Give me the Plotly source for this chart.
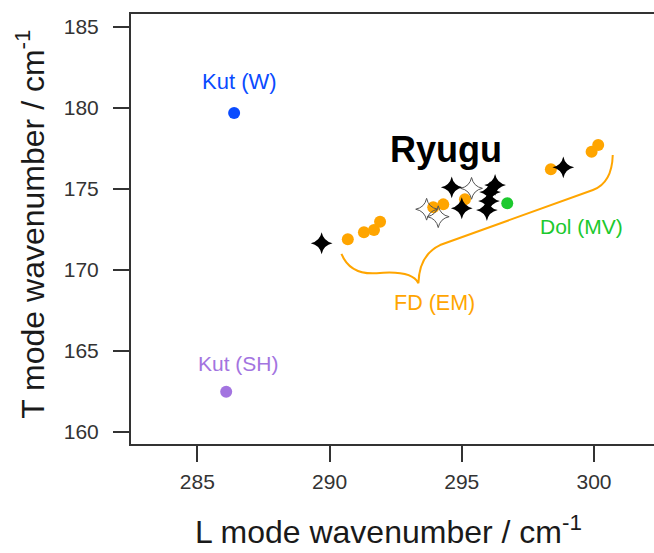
import plotly.graph_objects as go

# L mode / T mode wavenumbers (cm^-1)
fd_L = [290.69, 291.30, 291.68, 291.91, 293.92, 294.30, 295.12, 298.37, 299.91, 300.16]
fd_T = [171.90, 172.33, 172.47, 172.98, 173.87, 174.05, 174.36, 176.22, 177.30, 177.72]

ryugu_L = [289.70, 294.62, 295.00, 296.26, 296.07, 296.03, 295.95, 298.84]
ryugu_T = [171.65, 175.10, 173.81, 175.25, 174.81, 174.26, 173.70, 176.34]

ryugu_open_L = [293.67, 294.11, 295.37]
ryugu_open_T = [173.75, 173.29, 175.04]

kut_w = (286.39, 179.69)
kut_sh = (286.09, 162.49)
dol_mv = (296.72, 174.12)

x_ticks = [285, 290, 295, 300]
y_ticks = [160, 165, 170, 175, 180, 185]

FONT = "Liberation Sans, Arial, sans-serif"
ORANGE = "#FFA500"
BLUE = "#0A4BFF"
PURPLE = "#A374E0"
GREEN = "#1CC92E"

fig = go.Figure()

fig.add_trace(go.Scatter(x=fd_L, y=fd_T, mode="markers",
                         marker=dict(size=12, color=ORANGE), hoverinfo="skip"))
# filled four-point stars: a concave star plus a small diamond to thicken the waist
fig.add_trace(go.Scatter(x=ryugu_L, y=ryugu_T, mode="markers",
                         marker=dict(symbol="star-square", angle=45, size=14, color="black",
                                     line=dict(width=0))))
fig.add_trace(go.Scatter(x=ryugu_L, y=ryugu_T, mode="markers",
                         marker=dict(symbol="diamond", size=10, color="black",
                                     line=dict(width=0))))
fig.add_trace(go.Scatter(x=ryugu_open_L, y=ryugu_open_T, mode="markers",
                         marker=dict(symbol="star-square-open", angle=45, size=14,
                                     color="#555555", line=dict(width=1))))
for (px, py), col in [(kut_w, BLUE), (kut_sh, PURPLE), (dol_mv, GREEN)]:
    fig.add_trace(go.Scatter(x=[px], y=[py], mode="markers",
                             marker=dict(size=12, color=col)))

# curly brace under the FD (EM) group, in data coordinates
brace = ("M 290.45,171.0 Q 290.77,169.69 291.78,169.80 "
         "Q 293.12,170.0 293.36,169.18 "
         "Q 293.39,170.93 294.18,171.54 "
         "L 299.96,174.94 "
         "Q 300.68,175.37 300.71,177.10")
fig.add_shape(type="path", path=brace, xref="x", yref="y",
              line=dict(color=ORANGE, width=2), layer="below")

labels = [
    ("Kut (W)", 286.58, 181.62, BLUE, 22, False),
    ("Kut (SH)", 286.57, 164.24, PURPLE, 21, False),
    ("Dol (MV)", 299.54, 172.67, GREEN, 21, False),
    ("FD (EM)", 293.97, 167.94, ORANGE, 21.5, False),
    ("Ryugu", 294.42, 177.41, "black", 36, True),
]
for txt, lx, ly, col, sz, bold in labels:
    fig.add_annotation(x=lx, y=ly, xref="x", yref="y",
                       text=f"<b>{txt}</b>" if bold else txt, showarrow=False,
                       font=dict(family=FONT, size=sz, color=col),
                       xanchor="center", yanchor="middle")

fig.add_annotation(x=0.4914, y=-0.2, xref="paper", yref="paper",
                   text="L mode wavenumber / cm<sup>-1</sup>", showarrow=False,
                   font=dict(family=FONT, size=32, color="#1a1a1a"),
                   xanchor="center", yanchor="middle")
fig.add_annotation(x=-0.193, y=0.51, xref="paper", yref="paper",
                   text="T mode wavenumber / cm<sup>-1</sup>", showarrow=False,
                   textangle=-90,
                   font=dict(family=FONT, size=32, color="#1a1a1a"),
                   xanchor="center", yanchor="middle")

axis_common = dict(showgrid=False, zeroline=False, showline=True, linecolor="#333333",
                   linewidth=2, ticks="outside", ticklen=16, tickwidth=2,
                   tickcolor="#333333", tickfont=dict(family=FONT, size=21, color="#333333"))

fig.update_layout(
    width=654, height=553,
    margin=dict(l=131, r=0, t=14, b=109),
    paper_bgcolor="white", plot_bgcolor="white",
    showlegend=False,
    xaxis=dict(range=[282.49, 302.27], tickvals=x_ticks, mirror=True,
               ticklabelstandoff=2, **axis_common),
    yaxis=dict(range=[159.26, 185.8], tickvals=y_ticks, mirror=False,
               ticklabelstandoff=10, **axis_common),
)

fig.write_html("out.html")
